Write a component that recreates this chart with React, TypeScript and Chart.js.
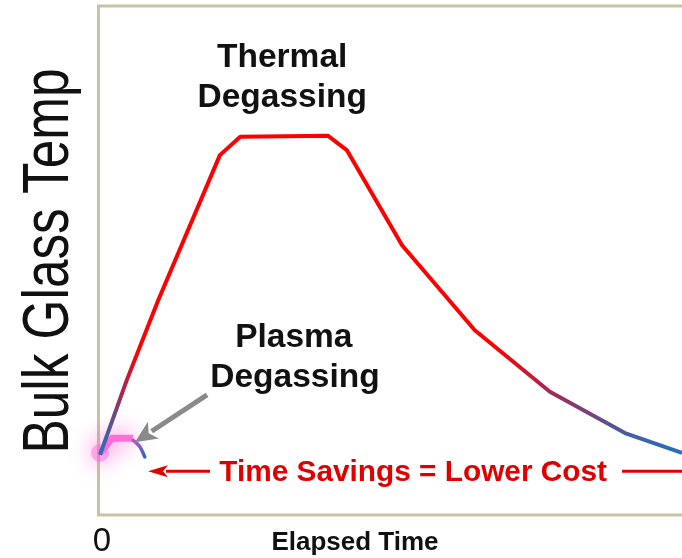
import React, { useEffect, useRef } from "react";
import { Chart, registerables } from "chart.js";

Chart.register(...registerables);

// Elapsed time (arbitrary units) and bulk glass temperature (arbitrary units)
const thermalTimes = [0, 4.6, 10.0, 20.6, 24.1, 39.2, 42.4, 51.9, 64.4, 77.3, 90.2, 100];
const thermalTemps = [11.8, 26.5, 42.2, 70.7, 74.3, 74.5, 71.7, 53.0, 36.3, 24.2, 16.1, 12.2];
const plasmaTimes = [0, 2.1, 5.7];
const plasmaTemps = [12.2, 15.1, 15.1];
const coolTimes = [5.7, 6.8, 7.7];
const coolTemps = [14.7, 13.5, 11.4];
const xTickLabels = ["0"];

const yTitle = "Bulk Glass Temp";
const xTitle = "Elapsed Time";
const thermalLabel = ["Thermal", "Degassing"];
const plasmaLabel = ["Plasma", "Degassing"];
const savingsLabel = "Time Savings = Lower Cost";

const FRAME = "#c9c3a1";
const RED = "#ff0000";
const BLUE = "#2e6cb4";

function zip(xs: number[], ys: number[]) {
  return xs.map((x, i) => ({ x, y: ys[i] }));
}

const glowPlugin = {
  id: "glow",
  beforeDatasetDraw(chart: any, args: any) {
    const ds = chart.data.datasets[args.index];
    if (ds.glow) {
      chart.ctx.save();
      chart.ctx.shadowColor = ds.glow;
      chart.ctx.shadowBlur = 22;
    }
  },
  afterDatasetDraw(chart: any, args: any) {
    const ds = chart.data.datasets[args.index];
    if (ds.glow) chart.ctx.restore();
  },
};

const framePlugin = {
  id: "frame",
  beforeDatasetsDraw(chart: any) {
    const { ctx, chartArea: a } = chart;
    ctx.save();
    ctx.strokeStyle = FRAME;
    ctx.lineWidth = 3;
    ctx.beginPath();
    ctx.moveTo(chart.width + 2, a.top);
    ctx.lineTo(a.left - 1.5, a.top);
    ctx.lineTo(a.left - 1.5, a.bottom);
    ctx.lineTo(chart.width + 2, a.bottom);
    ctx.stroke();
    ctx.restore();
  },
};

function arrow(ctx: any, x1: number, y1: number, x2: number, y2: number, color: string, lw: number, hl: number, hw: number) {
  const ang = Math.atan2(y2 - y1, x2 - x1);
  const bx = x2 - Math.cos(ang) * hl;
  const by = y2 - Math.sin(ang) * hl;
  ctx.save();
  ctx.strokeStyle = color;
  ctx.fillStyle = color;
  ctx.lineWidth = lw;
  ctx.beginPath();
  ctx.moveTo(x1, y1);
  ctx.lineTo(bx + Math.cos(ang) * 2, by + Math.sin(ang) * 2);
  ctx.stroke();
  ctx.beginPath();
  ctx.moveTo(x2, y2);
  ctx.lineTo(bx + Math.sin(ang) * hw, by - Math.cos(ang) * hw);
  ctx.lineTo(bx + Math.cos(ang) * hl * 0.25, by + Math.sin(ang) * hl * 0.25);
  ctx.lineTo(bx - Math.sin(ang) * hw, by + Math.cos(ang) * hw);
  ctx.closePath();
  ctx.fill();
  ctx.restore();
}

const annotationPlugin = {
  id: "annotations",
  afterDatasetsDraw(chart: any) {
    const { ctx } = chart;
    const xs = chart.scales.x;
    const ys = chart.scales.y;
    const px = (v: number) => xs.getPixelForValue(v);
    const py = (v: number) => ys.getPixelForValue(v);
    const F = '"Liberation Sans", Arial, sans-serif';

    ctx.save();
    ctx.textAlign = "center";
    ctx.textBaseline = "alphabetic";
    ctx.fillStyle = "#111";
    ctx.font = `bold 33.5px ${F}`;
    ctx.fillText(thermalLabel[0], px(31.3), py(88.0));
    ctx.fillText(thermalLabel[1], px(31.3), py(80.2));
    ctx.fillText(plasmaLabel[0], px(33.3), py(33.0));
    ctx.fillText(plasmaLabel[1], px(33.5), py(25.1));

    ctx.fillStyle = "#e00000";
    ctx.font = `bold 29.8px ${F}`;
    ctx.fillText(savingsLabel, px(53.8), py(6.7));

    // y title
    ctx.save();
    ctx.fillStyle = "#111";
    ctx.font = `64px ${F}`;
    ctx.translate(68, (chart.chartArea.top + chart.chartArea.bottom) / 2 + 0.5);
    ctx.rotate(-Math.PI / 2);
    const w = ctx.measureText(yTitle).width;
    ctx.scale(385 / w, 1);
    ctx.fillText(yTitle, 0, 0);
    ctx.restore();

    // x tick and title
    ctx.fillStyle = "#111";
    ctx.font = `33px ${F}`;
    ctx.fillText(xTickLabels[0], px(0) + 2, 551);
    ctx.font = `bold 26px ${F}`;
    ctx.fillText(xTitle, 355, 550);
    ctx.restore();

    // arrows
    arrow(ctx, px(18.4), py(23.6), px(6.0), py(14.3), "#8a8a8a", 5, 22, 10);
    arrow(ctx, px(18.9), py(8.6), px(8.25), py(8.6), "#e00000", 3, 20, 6);
    ctx.save();
    ctx.strokeStyle = "#e00000";
    ctx.lineWidth = 3;
    ctx.beginPath();
    ctx.moveTo(px(89.7), py(8.6));
    ctx.lineTo(chart.width, py(8.6));
    ctx.stroke();
    ctx.restore();
  },
};

export default function App() {
  const ref = useRef<HTMLCanvasElement | null>(null);
  useEffect(() => {
    if (!ref.current) return;
    const mainGradient = (c: any) => {
      const chart = c.chart;
      const ys = chart.scales.y;
      if (!chart.chartArea || !ys) return RED;
      const g = chart.ctx.createLinearGradient(0, ys.getPixelForValue(32.5), 0, ys.getPixelForValue(13.5));
      g.addColorStop(0, RED);
      g.addColorStop(0.45, "#a02a58");
      g.addColorStop(1, BLUE);
      return g;
    };
    const coolGradient = (c: any) => {
      const chart = c.chart;
      const ys = chart.scales.y;
      if (!chart.chartArea || !ys) return BLUE;
      const g = chart.ctx.createLinearGradient(0, ys.getPixelForValue(15), 0, ys.getPixelForValue(11.5));
      g.addColorStop(0, "#c050d0");
      g.addColorStop(1, BLUE);
      return g;
    };
    const chart = new Chart(ref.current, {
      type: "line",
      data: {
        datasets: [
          {
            label: "Thermal Degassing",
            data: zip(thermalTimes, thermalTemps),
            borderColor: mainGradient,
            borderWidth: 4,
            pointRadius: 0,
            tension: 0,
            order: 0,
            borderJoinStyle: "round",
          } as any,
          {
            label: "Plasma cool-down",
            data: zip(coolTimes, coolTemps),
            borderColor: coolGradient,
            borderWidth: 3.5,
            pointRadius: 0,
            tension: 0.4,
            order: 1,
            borderCapStyle: "round",
          } as any,
          {
            label: "Plasma Degassing",
            data: zip(plasmaTimes, plasmaTemps),
            borderColor: "rgba(255,105,215,0.95)",
            borderWidth: 7,
            pointRadius: [9, 0, 0],
            pointBackgroundColor: "rgba(255,110,220,0.5)",
            pointBorderWidth: 0,
            tension: 0,
            order: 2,
            glow: "#ff48cc",
          } as any,
        ],
      },
      options: {
        responsive: false,
        animation: false,
        clip: false as any,
        layout: { autoPadding: false, padding: { left: 100, top: 6, right: 0, bottom: 43 } } as any,
        plugins: { legend: { display: false }, tooltip: { enabled: false } },
        scales: {
          x: { type: "linear", min: 0, max: 100, display: false },
          y: { type: "linear", min: 0, max: 100, display: false },
        },
      },
      plugins: [glowPlugin, framePlugin, annotationPlugin],
    });
    return () => chart.destroy();
  }, []);
  return (
    <div style={{ position: "absolute", left: 0, top: 0, width: 682, height: 558, overflow: "hidden", background: "#fff" }}>
      <canvas ref={ref} width={682} height={558} style={{ display: "block", width: 682, height: 558 }} />
    </div>
  );
}
